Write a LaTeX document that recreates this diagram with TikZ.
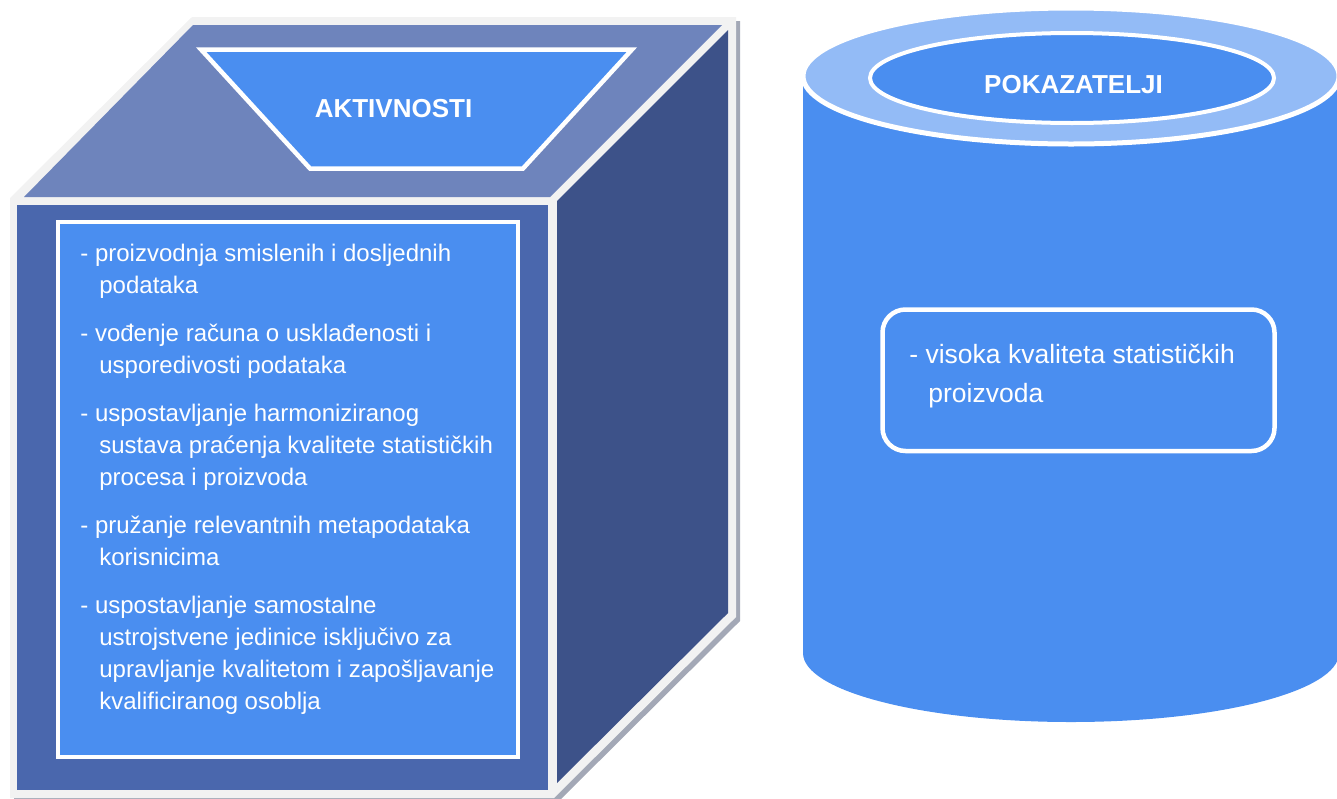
\documentclass[tikz,border=0pt]{standalone}
\usepackage{fontspec}
\setmainfont{Liberation Sans}
\definecolor{rim}{HTML}{F2F2F2}
\definecolor{rimshade}{HTML}{A3A8B6}
\definecolor{cubetop}{HTML}{6E84BC}
\definecolor{cubefront}{HTML}{4A67AD}
\definecolor{cubeside}{HTML}{3D5289}
\definecolor{panel}{HTML}{4A8EF0}
\definecolor{ring}{HTML}{93BBF6}
% a stack of lines whose baseline is that of its first line
\newcommand\linestack[1]{\vtop{#1}}
\newcommand\cont[1]{\hbox{\hspace*{9.5pt}#1}}
\begin{document}
\begin{tikzpicture}[x=0.5pt,y=-0.5pt,
  panelbox/.style={draw=white, line width=2.25pt, fill=panel},
  title/.style={text=white, font=\fontsize{13}{15.6}\selectfont\bfseries, inner sep=0pt, anchor=base},
  item/.style={text=white, font=\fontsize{12}{16}\selectfont, inner sep=0pt, anchor=base west},
  bigitem/.style={text=white, font=\fontsize{13.25}{19.5}\selectfont, inner sep=0pt, anchor=base west}]
\useasboundingbox (0,0) rectangle (1337,798);
\clip (0,0) rectangle (1337,798);

% ---- cube: rim shadow, light rim, then the three faces
\fill[rimshade] (14,202) -- (196,21) -- (740,21) -- (740,621) -- (558,802) -- (14,802) -- cycle;
\fill[rim] (10,198) -- (192,17) -- (736,17) -- (736,617) -- (554,798) -- (10,798) -- cycle;
\fill[cubetop] (24,197) -- (193,25) -- (722,25) -- (550,197) -- cycle;
\fill[cubeside] (557,201) -- (728,30) -- (728,613) -- (557,783) -- cycle;
\fill[cubefront] (17,205) rectangle (548,790);

% heading plate on the top face
\draw[panelbox] (201,49.5) -- (632,49.5) -- (523,168.5) -- (310,168.5) -- cycle;
\node[title] (akt) at (393.5,117) {AKTIVNOSTI};

% list panel on the front face
\draw[panelbox] (58,222) rectangle (518,757);
\node[item] (a1) at (80,261) {\linestack{\hbox{- proizvodnja smislenih i dosljednih}\cont{podataka}}};
\node[item] (a2) at (80,341) {\linestack{\hbox{- vođenje računa o usklađenosti i}\cont{usporedivosti podataka}}};
\node[item] (a3) at (80,421) {\linestack{\hbox{- uspostavljanje harmoniziranog}\cont{sustava praćenja kvalitete statističkih}\cont{procesa i proizvoda}}};
\node[item] (a4) at (80,533) {\linestack{\hbox{- pružanje relevantnih metapodataka}\cont{korisnicima}}};
\node[item] (a5) at (80,613) {\linestack{\hbox{- uspostavljanje samostalne}\cont{ustrojstvene jedinice isključivo za}\cont{upravljanje kvalitetom i zapošljavanje}\cont{kvalificiranog osoblja}}};

% ---- cylinder
\fill[panel] (803,76) rectangle (1339,653);
\fill[panel] (1071,653) ellipse [x radius=268, y radius=69];
\draw[white, line width=2.5pt, fill=ring] (1071,76) ellipse [x radius=268, y radius=68];
\draw[white, line width=2pt, fill=panel] (1072,78) ellipse [x radius=202, y radius=45];
\node[title] (pok) at (1073.5,93) {POKAZATELJI};

\draw[panelbox, rounded corners=11.5pt] (882.5,309.5) rectangle (1274.5,451);
\node[bigitem] (p1) at (909,363) {\linestack{\hbox{- visoka kvaliteta statističkih}\cont{proizvoda}}};
\end{tikzpicture}
\end{document}
